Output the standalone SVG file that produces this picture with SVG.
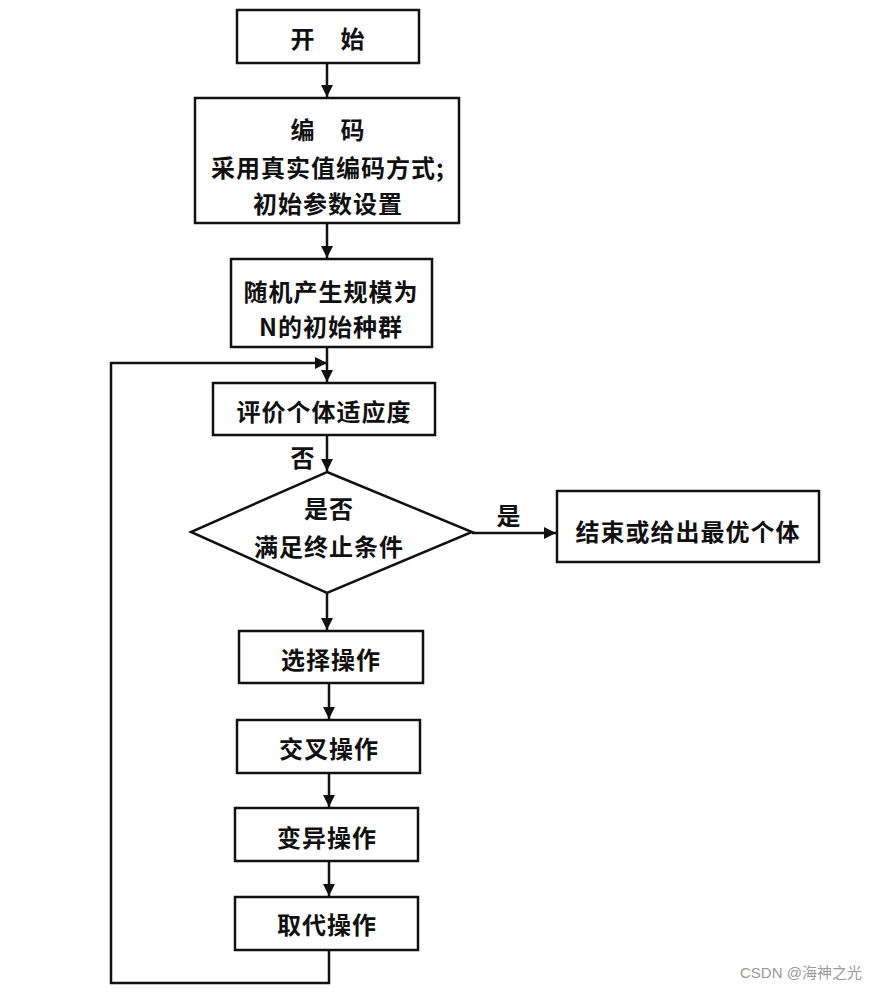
<svg xmlns="http://www.w3.org/2000/svg" width="891" height="993" viewBox="0 0 891 993">
<style>
.box{fill:#fff;stroke:#111;stroke-width:2.5}
.t{font-family:"Noto Sans CJK SC","Liberation Sans",sans-serif;font-weight:bold;font-size:24px;fill:#111;text-anchor:middle;dominant-baseline:central;letter-spacing:1px}
.c{fill:none;stroke:#111;stroke-width:2.5}
.wm{font-family:"Liberation Sans","Noto Sans CJK SC",sans-serif;font-size:15px;fill:#999}
</style>
<defs>
<marker id="ah" viewBox="0 0 10 10" refX="10" refY="5" markerWidth="5" markerHeight="5" orient="auto" markerUnits="strokeWidth">
<path d="M0,0 L10,5 L0,10 z" fill="#111"/>
</marker>
</defs>
<rect width="891" height="993" fill="#fff"/>
<g id="connectors">
<path class="c" d="M327,63 V97" marker-end="url(#ah)"/>
<path class="c" d="M327,223 V258" marker-end="url(#ah)"/>
<path class="c" d="M327,347 V382" marker-end="url(#ah)"/>
<path class="c" d="M327,435 V471" marker-end="url(#ah)"/>
<path class="c" d="M472,533 H556" marker-end="url(#ah)"/>
<path class="c" d="M327,593 V630" marker-end="url(#ah)"/>
<path class="c" d="M329,683 V719" marker-end="url(#ah)"/>
<path class="c" d="M329,773 V807" marker-end="url(#ah)"/>
<path class="c" d="M329,861 V896" marker-end="url(#ah)"/>
<path class="c" d="M329,950 V983 H111 V363 H327" marker-end="url(#ah)"/>
<text class="t" x="303" y="456">否</text>
<text class="t" x="509" y="514">是</text>
</g>
<g id="start">
<rect class="box" x="237" y="10" width="182" height="53"/>
<text class="t" x="328" y="37">开　始</text>
</g>
<g id="encode">
<rect class="box" x="195" y="98" width="264" height="125"/>
<text class="t" x="328" y="128">编　码</text>
<text class="t" x="328" y="166">采用真实值编码方式;</text>
<text class="t" x="328" y="202">初始参数设置</text>
</g>
<g id="init">
<rect class="box" x="231" y="259" width="201" height="88"/>
<text class="t" x="331" y="290">随机产生规模为</text>
<text class="t" x="331" y="325">N的初始种群</text>
</g>
<g id="evaluate">
<rect class="box" x="213" y="383" width="222" height="52"/>
<text class="t" x="324" y="410">评价个体适应度</text>
</g>
<g id="decision">
<polygon class="box" points="327,472 472,532 327,593 191,532"/>
<text class="t" x="329" y="507">是否</text>
<text class="t" x="329" y="545">满足终止条件</text>
</g>
<g id="end">
<rect class="box" x="557" y="491" width="262" height="71"/>
<text class="t" x="688" y="530">结束或给出最优个体</text>
</g>
<g id="select">
<rect class="box" x="239" y="631" width="184" height="52"/>
<text class="t" x="331" y="658">选择操作</text>
</g>
<g id="crossover">
<rect class="box" x="237" y="720" width="183" height="53"/>
<text class="t" x="329" y="747">交叉操作</text>
</g>
<g id="mutation">
<rect class="box" x="235" y="808" width="183" height="53"/>
<text class="t" x="327" y="836">变异操作</text>
</g>
<g id="replace">
<rect class="box" x="235" y="897" width="183" height="53"/>
<text class="t" x="327" y="923">取代操作</text>
</g>
<text class="wm" x="740" y="978">CSDN @海神之光</text>
</svg>
